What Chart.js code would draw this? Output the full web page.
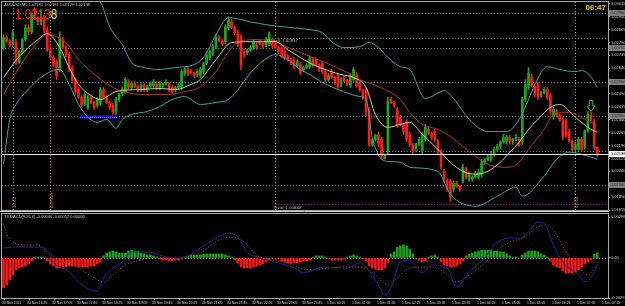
<!DOCTYPE html>
<html><head><meta charset="utf-8"><title>AUDUSD,M5</title>
<style>
html,body{margin:0;padding:0;background:#000;width:625px;height:306px;overflow:hidden}
#wrap{position:relative;width:625px;height:306px;background:#000}
canvas{position:absolute;left:0}
#cMain{top:0}
#cMacd{top:211px}
</style>
<script src="https://cdn.jsdelivr.net/npm/chart.js@4.4.1/dist/chart.umd.min.js"></script>
</head><body>
<div id="wrap"><canvas id="cMain" width="625" height="216"></canvas><canvas id="cMacd" width="625" height="95"></canvas></div>
<script>
// ---------------- DATA ----------------
const symbolName = 'AUDUSD,M5';
const clockText = '06:47';
const opens = [1.02760,1.02818,1.02798,1.02777,1.02789,1.02678,1.02736,1.02806,1.02876,1.02852,
1.02951,1.02930,1.02910,1.02934,1.02864,1.02748,1.02705,1.02678,1.02632,1.02806,
1.02762,1.02719,1.02644,1.02574,1.02516,1.02472,1.02435,1.02412,1.02470,1.02441,
1.02423,1.02435,1.02516,1.02470,1.02441,1.02423,1.02388,1.02458,1.02487,1.02504,
1.02562,1.02528,1.02551,1.02534,1.02516,1.02539,1.02516,1.02534,1.02539,1.02551,
1.02528,1.02539,1.02548,1.02545,1.02528,1.02516,1.02528,1.02528,1.02609,1.02632,
1.02620,1.02612,1.02603,1.02597,1.02620,1.02667,1.02702,1.02725,1.02765,1.02818,
1.02800,1.02794,1.02876,1.02910,1.02878,1.02847,1.02818,1.02736,1.02731,1.02745,
1.02760,1.02777,1.02794,1.02782,1.02777,1.02783,1.02794,1.02783,1.02760,1.02754,
1.02736,1.02707,1.02690,1.02690,1.02655,1.02661,1.02632,1.02644,1.02649,1.02690,
1.02690,1.02661,1.02667,1.02620,1.02574,1.02620,1.02588,1.02597,1.02545,1.02586,
1.02568,1.02539,1.02574,1.02603,1.02551,1.02513,1.02516,1.02400,1.02197,1.02223,
1.02255,1.02226,1.02116,1.02156,1.02458,1.02440,1.02400,1.02354,1.02313,1.02330,
1.02255,1.02191,1.02168,1.02197,1.02156,1.02226,1.02284,1.02261,1.02272,1.02214,
1.02151,1.02040,1.01988,1.01982,1.01936,1.01971,1.01954,1.01982,1.02052,1.01994,
1.01994,1.02008,1.02006,1.02023,1.02093,1.02107,1.02110,1.02139,1.02168,1.02185,
1.02211,1.02214,1.02238,1.02214,1.02226,1.02226,1.02214,1.02458,1.02528,1.02586,
1.02536,1.02545,1.02481,1.02498,1.02516,1.02481,1.02359,1.02388,1.02365,1.02342,
1.02330,1.02267,1.02217,1.02168,1.02168,1.02226,1.02180,1.02275,1.02365,1.02330,1.02181];
const highs = [1.02835,1.02829,1.02805,1.02864,1.02806,1.02748,1.02815,1.02893,1.02893,1.02963,
1.02992,1.02940,1.02980,1.02951,1.02881,1.02765,1.02712,1.02690,1.02852,1.02818,
1.02770,1.02731,1.02655,1.02586,1.02528,1.02480,1.02499,1.02481,1.02481,1.02449,
1.02470,1.02528,1.02528,1.02481,1.02449,1.02435,1.02470,1.02495,1.02528,1.02586,
1.02574,1.02562,1.02562,1.02540,1.02551,1.02551,1.02540,1.02562,1.02574,1.02562,
1.02562,1.02555,1.02574,1.02557,1.02539,1.02535,1.02551,1.02632,1.02644,1.02644,
1.02632,1.02618,1.02632,1.02644,1.02675,1.02736,1.02748,1.02777,1.02835,1.02829,
1.02807,1.02893,1.02939,1.02922,1.02885,1.02864,1.02835,1.02748,1.02752,1.02771,
1.02806,1.02789,1.02806,1.02788,1.02818,1.02852,1.02806,1.02794,1.02767,1.02765,
1.02748,1.02719,1.02697,1.02702,1.02690,1.02673,1.02650,1.02667,1.02713,1.02702,
1.02702,1.02668,1.02678,1.02632,1.02609,1.02632,1.02595,1.02609,1.02586,1.02597,
1.02575,1.02609,1.02644,1.02615,1.02562,1.02520,1.02528,1.02412,1.02230,1.02255,
1.02267,1.02238,1.02139,1.02470,1.02470,1.02447,1.02412,1.02365,1.02320,1.02342,
1.02267,1.02203,1.02204,1.02238,1.02267,1.02313,1.02296,1.02268,1.02284,1.02226,
1.02168,1.02052,1.01996,1.01994,1.01982,1.01982,1.01961,1.02081,1.02064,1.02035,
1.02015,1.02040,1.02052,1.02110,1.02114,1.02139,1.02156,1.02180,1.02197,1.02218,
1.02255,1.02249,1.02249,1.02233,1.02255,1.02238,1.02470,1.02574,1.02644,1.02603,
1.02543,1.02557,1.02505,1.02528,1.02528,1.02493,1.02412,1.02400,1.02372,1.02354,
1.02342,1.02284,1.02224,1.02209,1.02238,1.02238,1.02282,1.02388,1.02383,1.02342,1.02181];
const lows = [1.02748,1.02790,1.02765,1.02765,1.02661,1.02667,1.02725,1.02798,1.02835,1.02841,
1.02922,1.02893,1.02893,1.02847,1.02736,1.02697,1.02649,1.02574,1.02620,1.02754,
1.02707,1.02620,1.02557,1.02487,1.02464,1.02412,1.02423,1.02400,1.02433,1.02400,
1.02412,1.02423,1.02458,1.02433,1.02400,1.02371,1.02371,1.02446,1.02479,1.02493,
1.02516,1.02516,1.02527,1.02504,1.02504,1.02504,1.02504,1.02527,1.02528,1.02516,
1.02516,1.02528,1.02541,1.02504,1.02493,1.02504,1.02521,1.02516,1.02597,1.02597,
1.02605,1.02586,1.02591,1.02586,1.02609,1.02660,1.02690,1.02713,1.02754,1.02793,
1.02771,1.02783,1.02864,1.02870,1.02835,1.02765,1.02632,1.02702,1.02719,1.02738,
1.02748,1.02748,1.02776,1.02760,1.02765,1.02771,1.02760,1.02753,1.02725,1.02702,
1.02690,1.02684,1.02661,1.02638,1.02644,1.02603,1.02620,1.02638,1.02638,1.02644,
1.02655,1.02620,1.02609,1.02562,1.02562,1.02580,1.02545,1.02522,1.02533,1.02561,
1.02539,1.02528,1.02562,1.02528,1.02505,1.02458,1.02359,1.02185,1.02185,1.02216,
1.02185,1.02110,1.02110,1.02139,1.02433,1.02412,1.02296,1.02306,1.02255,1.02214,
1.02185,1.02139,1.02156,1.02190,1.02139,1.02214,1.02254,1.02226,1.02214,1.02139,
1.02052,1.01980,1.01924,1.01866,1.01924,1.01947,1.01924,1.01971,1.01994,1.01982,
1.01982,1.02001,1.01994,1.02006,1.02081,1.02100,1.02098,1.02127,1.02156,1.02168,
1.02204,1.02197,1.02197,1.02197,1.02219,1.02185,1.02197,1.02446,1.02516,1.02529,
1.02475,1.02458,1.02470,1.02491,1.02458,1.02371,1.02342,1.02358,1.02330,1.02226,
1.02238,1.02210,1.02156,1.02156,1.02156,1.02156,1.02168,1.02268,1.02330,1.02168,1.02129];
const closes = [1.02818,1.02798,1.02777,1.02847,1.02678,1.02736,1.02806,1.02876,1.02852,1.02951,
1.02930,1.02910,1.02934,1.02864,1.02748,1.02705,1.02661,1.02597,1.02818,1.02762,
1.02719,1.02632,1.02574,1.02504,1.02472,1.02429,1.02487,1.02470,1.02441,1.02412,
1.02458,1.02516,1.02470,1.02441,1.02412,1.02383,1.02458,1.02487,1.02516,1.02574,
1.02528,1.02551,1.02534,1.02516,1.02539,1.02516,1.02534,1.02551,1.02562,1.02528,
1.02551,1.02548,1.02557,1.02516,1.02504,1.02528,1.02539,1.02620,1.02632,1.02609,
1.02612,1.02603,1.02620,1.02632,1.02667,1.02713,1.02736,1.02765,1.02818,1.02800,
1.02783,1.02881,1.02922,1.02878,1.02847,1.02777,1.02661,1.02719,1.02745,1.02760,
1.02794,1.02760,1.02782,1.02771,1.02806,1.02841,1.02771,1.02760,1.02736,1.02707,
1.02702,1.02690,1.02673,1.02649,1.02678,1.02615,1.02644,1.02655,1.02702,1.02655,
1.02661,1.02632,1.02620,1.02574,1.02597,1.02588,1.02557,1.02533,1.02574,1.02568,
1.02551,1.02597,1.02632,1.02539,1.02513,1.02475,1.02388,1.02197,1.02223,1.02249,
1.02197,1.02127,1.02133,1.02446,1.02440,1.02423,1.02307,1.02313,1.02272,1.02226,
1.02197,1.02156,1.02197,1.02226,1.02255,1.02296,1.02261,1.02238,1.02226,1.02156,
1.02069,1.01988,1.01936,1.01890,1.01971,1.01954,1.01936,1.02064,1.02006,1.02023,
1.02008,1.02023,1.02035,1.02093,1.02107,1.02122,1.02139,1.02168,1.02185,1.02211,
1.02238,1.02238,1.02214,1.02226,1.02238,1.02197,1.02458,1.02545,1.02609,1.02536,
1.02487,1.02475,1.02498,1.02516,1.02470,1.02388,1.02400,1.02365,1.02342,1.02243,
1.02249,1.02217,1.02168,1.02197,1.02226,1.02168,1.02275,1.02371,1.02342,1.02181,1.02138];

// time axis labels, one every 8 bars (M5 -> 40 min)
const timeLabels = ['30 Nov 2011','30 Nov 16:25','30 Nov 17:05','30 Nov 17:45','30 Nov 18:25','30 Nov 19:05','30 Nov 19:45','30 Nov 20:25','30 Nov 21:05','30 Nov 21:45','30 Nov 22:25','30 Nov 23:05','30 Nov 23:45','1 Dec 00:25','1 Dec 01:05','1 Dec 01:45','1 Dec 02:25','1 Dec 03:05','1 Dec 03:45','1 Dec 04:25','1 Dec 05:05','1 Dec 05:45','1 Dec 06:25','1 Dec 07:05','1 Dec 07:45'];
const barsPerLabel = 8;
const priceTicks = [1.01815,1.01890,1.01965,1.02040,1.02115,1.02190,1.02265,1.02340,1.02415,1.02490,1.02565,1.02640,1.02715,1.02790,1.02865,1.02940,1.03015];
const pivotLevels = [1.02960,1.02760,1.02560,1.02360,1.02160,1.01960];

// indicator lines: [bar index, value]
const bbUpper = [[0,1.03212],[12,1.03183],[24,1.03108],[31,1.03026],[34,1.02881],[36,1.02823],[38,1.02777],[41,1.02673],[45,1.02644],[49,1.02632],[55,1.02644],[61,1.02661],[64,1.02702],[68,1.02835],[72,1.02934],[79,1.02910],[84,1.02893],[92,1.02876],[98,1.02864],[102,1.02847],[105,1.02794],[109,1.02760],[114,1.02765],[117,1.02789],[120,1.02760],[123,1.02702],[127,1.02649],[130,1.02632],[135,1.02464],[140,1.02504],[141,1.02510],[144,1.02464],[149,1.02342],[155,1.02272],[161,1.02272],[165,1.02342],[168,1.02458],[170,1.02545],[174,1.02649],[178,1.02632],[183,1.02620],[185,1.02626],[188,1.02591],[190,1.02528]];
const bbLower = [[0,1.02081],[2,1.02342],[4,1.02429],[5,1.02458],[18,1.02632],[21,1.02545],[25,1.02400],[30,1.02325],[33,1.02342],[36,1.02290],[38,1.02342],[41,1.02371],[46,1.02388],[50,1.02417],[54,1.02458],[58,1.02475],[63,1.02429],[68,1.02441],[72,1.02458],[80,1.02632],[85,1.02707],[87,1.02719],[91,1.02690],[95,1.02632],[98,1.02603],[102,1.02557],[107,1.02516],[114,1.02475],[116,1.02458],[118,1.02238],[121,1.02110],[123,1.02098],[127,1.02093],[130,1.02064],[139,1.02040],[143,1.01907],[151,1.01837],[158,1.01895],[164,1.01948],[166,1.01895],[173,1.02012],[177,1.02110],[181,1.02151],[185,1.02139],[190,1.02110]];
const maFast = [[0,1.02586],[5,1.02707],[11,1.02806],[14,1.02841],[18,1.02760],[21,1.02644],[24,1.02545],[28,1.02481],[31,1.02458],[36,1.02504],[44,1.02516],[50,1.02522],[55,1.02516],[60,1.02545],[63,1.02574],[68,1.02690],[73,1.02789],[79,1.02794],[87,1.02794],[91,1.02748],[95,1.02702],[99,1.02661],[103,1.02632],[108,1.02603],[112,1.02586],[116,1.02528],[119,1.02371],[123,1.02296],[127,1.02313],[130,1.02325],[134,1.02255],[139,1.02168],[143,1.02093],[147,1.02040],[151,1.02023],[155,1.02040],[159,1.02093],[162,1.02151],[165,1.02209],[168,1.02284],[171,1.02342],[175,1.02412],[178,1.02429],[183,1.02354],[188,1.02284],[190,1.02267]];
const maSlow = [[0,1.02487],[5,1.02644],[10,1.02771],[14,1.02835],[20,1.02789],[24,1.02690],[30,1.02591],[35,1.02528],[39,1.02499],[47,1.02487],[52,1.02487],[57,1.02499],[63,1.02533],[68,1.02620],[72,1.02736],[76,1.02800],[82,1.02806],[87,1.02789],[95,1.02731],[103,1.02673],[110,1.02615],[114,1.02574],[120,1.02533],[127,1.02458],[130,1.02383],[134,1.02313],[139,1.02284],[143,1.02243],[147,1.02185],[151,1.02127],[155,1.02081],[159,1.02064],[162,1.02064],[165,1.02093],[168,1.02168],[173,1.02284],[176,1.02371],[181,1.02383],[186,1.02342],[190,1.02307]];

// MACD sub window
const macdTitle = 'T3 MACD(9,26,6) -0.00046 -0.00052 0.00006';
const macdHist = [-0.00218,-0.00196,-0.0016,-0.00124,-0.00087,-0.00073,-0.00065,-0.00058,-0.00044,-0.00022,
0.00007,0.00007,0.00007,0.00007,-0.00022,-0.00044,-0.00058,-0.00073,-0.00073,-0.00065,
-0.00065,-0.00058,-0.00058,-0.00058,-0.00065,-0.00065,-0.00065,-0.00065,-0.00058,-0.00058,
-0.00044,-0.00029,0.00015,0.00036,0.00044,0.00051,0.00044,0.00036,0.00036,0.00036,
0.00051,0.00058,0.00051,0.00051,0.00036,0.00029,0.00022,0.00022,0.00015,0.00007,
-0.00007,-0.00015,-0.00015,-0.00022,-0.00022,-0.00015,-0.00015,-0.00007,0.00007,0.00015,
0.00022,0.00022,0.00022,0.00022,0.00029,0.00029,0.00029,0.00029,0.00029,0.00029,
0.00029,0.00022,0.00015,0.00007,-0.00015,-0.00036,-0.00065,-0.00073,-0.00073,-0.00073,
-0.00065,-0.00058,-0.00051,-0.00044,-0.00029,-0.00015,0,-0.00007,-0.00007,-0.00022,
-0.00029,-0.00036,-0.00036,-0.00036,-0.00036,-0.00029,-0.00022,-0.00022,-0.00015,0.00007,
0.00015,0.00015,0.00015,0.00007,-0.00007,-0.00015,-0.00015,-0.00015,-0.00015,-0.00007,
0.00007,0.00015,0.00022,0.00015,0.00007,-0.00007,-0.00022,-0.00058,-0.00073,-0.0008,
-0.00087,-0.00087,-0.00073,-0.00036,0.00029,0.00044,0.0008,0.00087,0.00095,0.00087,
0.00065,0.00029,-0.00007,-0.00015,-0.00029,-0.00022,0.00007,0.00015,0.00022,0.00007,
-0.00029,-0.00051,-0.00058,-0.00065,-0.00065,-0.00058,-0.00044,-0.00022,0.00015,0.00029,
0.00036,0.00044,0.00051,0.00058,0.00058,0.00058,0.00058,0.00051,0.00051,0.00044,
0.00044,0.00029,0.00015,0.00007,0.00007,0,0.00022,0.00036,0.00051,0.00051,
0.00051,0.00044,0.00029,0.00022,0.00007,-0.00022,-0.00051,-0.00065,-0.00073,-0.00095,
-0.00109,-0.00109,-0.00109,-0.00102,-0.00087,-0.00065,-0.00044,-0.00029,-0.00015,0.00029,0.00036];
const macdMain = [[0,0.00073],[5,0.0008],[11,0.0008],[14,0.00058],[16,-0.00036],[19,-0.00073],[21,-0.00102],[24,-0.00174],[28,-0.00233],[30,-0.0024],[32,-0.00145],[35,-0.00073],[38,-0.00029],[41,0.00044],[46,0.00044],[50,0.00022],[54,0],[57,0],[63,0.00073],[67,0.00131],[72,0.00182],[75,0.00153],[78,0.00044],[82,0],[87,-0.00029],[93,-0.00073],[96,-0.00109],[99,-0.00087],[102,-0.00065],[110,-0.00073],[114,-0.00036],[116,-0.00065],[120,-0.00196],[122,-0.00269],[124,-0.00218],[127,-0.00029],[130,-0.00015],[134,-0.00109],[137,-0.00051],[142,-0.00073],[145,-0.00211],[149,-0.00102],[154,0],[157,0.00095],[162,0.00145],[165,0.00145],[168,0.00189],[171,0.00262],[173,0.00254],[176,0.00095],[179,-0.00029],[184,-0.00124],[186,-0.00174],[189,-0.00102],[190,-0.00046]];
const macdSignal = [[0,0.0025],[1,0.00175],[3,0.00116],[7,0.00095],[11,0.00095],[14,0.00044],[18,-0.00015],[24,-0.00073],[29,-0.00145],[32,-0.00174],[35,-0.00124],[39,-0.00051],[44,-0.00015],[49,0.00007],[54,0],[59,0],[63,0.00036],[69,0.00131],[73,0.00153],[77,0.00116],[81,0.00022],[86,-0.00015],[91,-0.00036],[95,-0.00073],[99,-0.00087],[104,-0.00073],[109,-0.00065],[114,-0.00065],[118,-0.00102],[123,-0.00196],[126,-0.00145],[130,-0.00073],[137,-0.00065],[141,-0.00102],[145,-0.00174],[149,-0.00124],[154,-0.00036],[158,0.00058],[162,0.00116],[166,0.00145],[171,0.00225],[174,0.0024],[177,0.00167],[180,0.00044],[184,-0.00065],[187,-0.00124],[190,-0.00052]];
const macdTicks = [0.00296,0,-0.00291];

// chart objects
const tpLevel = {label:'TP.Sell', price:1.02817, fromBar:85};
const pivotLine = {label:'Pivot', price:1.01848, fromBar:87};
const zone = {fromBar:24.4, toBar:36.3, top:1.02366, bottom:1.02348};
const sessionLines = [
  {bar:3, color:'#b8843e', text:'16:00'},
  {bar:15, color:'#b8843e', text:'London'},
  {bar:87, color:'#9c9c9c', text:''},
  {bar:183, color:'#c9a83e', text:'07:00'}
];
const signalArrow = {bar:188, price:1.02388};

// ---------------- RENDER ----------------
const FONT = '"Liberation Sans", Arial, sans-serif';
const GREEN = '#22a322', RED = '#f41f1f';
const X_MIN = -0.48, X_MAX = 193.44;
const toXY = arr => arr.map(p => ({x:p[0], y:p[1]}));
const last = closes.length - 1;
const candleColors = closes.map((c,i) => c >= opens[i] ? GREEN : RED);

function hline(ctx,x1,x2,y){ctx.beginPath();ctx.moveTo(x1,y);ctx.lineTo(x2,y);ctx.stroke();}
function vline(ctx,x,y1,y2){ctx.beginPath();ctx.moveTo(x,y1);ctx.lineTo(x,y2);ctx.stroke();}
function fixedAxis(w){return function(s){s.width=w;s.paddingTop=0;s.paddingBottom=0;};}

const mainDecor = {
  id:'mainDecor',
  beforeDatasetsDraw(chart){
    const {ctx, chartArea:a, scales:{x,y}} = chart;
    ctx.save();
    ctx.beginPath(); ctx.rect(a.left,a.top,a.right-a.left,a.bottom-a.top); ctx.clip();
    ctx.lineWidth = 1;
    ctx.setLineDash([1,2]);
    ctx.strokeStyle = '#7a7a7a';
    pivotLevels.forEach(p => hline(ctx,a.left,a.right,Math.round(y.getPixelForValue(p))+0.5));
    sessionLines.forEach(s => { ctx.strokeStyle = s.color; vline(ctx,Math.round(x.getPixelForValue(s.bar))+0.5,a.top,a.bottom); });
    ctx.strokeStyle = '#8a8a8a';
    hline(ctx,x.getPixelForValue(tpLevel.fromBar),a.right,Math.round(y.getPixelForValue(tpLevel.price))+0.5);
    ctx.strokeStyle = '#a43ca4';
    hline(ctx,x.getPixelForValue(pivotLine.fromBar),a.right,Math.round(y.getPixelForValue(pivotLine.price))+0.5);
    ctx.setLineDash([]);
    const zx1 = x.getPixelForValue(zone.fromBar), zx2 = x.getPixelForValue(zone.toBar);
    const zy1 = y.getPixelForValue(zone.top), zy2 = y.getPixelForValue(zone.bottom);
    ctx.fillStyle = '#1717e6'; ctx.fillRect(zx1,zy1,zx2-zx1,zy2-zy1);
    ctx.strokeStyle = '#7088ff'; ctx.setLineDash([1,1]);
    hline(ctx,zx1,zx2,Math.round((zy1+zy2)/2)+0.5);
    ctx.restore();
  },
  afterDatasetsDraw(chart){
    const {ctx, chartArea:a, scales:{x,y}} = chart;
    ctx.save();
    const bidY = Math.round(y.getPixelForValue(closes[last]))+0.5;
    ctx.strokeStyle = '#e8e8e8'; ctx.lineWidth = 1;
    hline(ctx,a.left,a.right,bidY);
    const ax = x.getPixelForValue(signalArrow.bar), ay = y.getPixelForValue(signalArrow.price);
    ctx.strokeStyle = '#3fbf55';
    ctx.beginPath();
    ctx.moveTo(ax-1.8,ay-11); ctx.lineTo(ax+1.8,ay-11); ctx.lineTo(ax+1.8,ay-5.5); ctx.lineTo(ax+4,ay-5.5);
    ctx.lineTo(ax,ay); ctx.lineTo(ax-4,ay-5.5); ctx.lineTo(ax-1.8,ay-5.5); ctx.closePath(); ctx.stroke();
    ctx.font = '4.5px '+FONT; ctx.textBaseline = 'middle'; ctx.textAlign = 'left';
    sessionLines.forEach(s => {
      if (!s.text) return;
      const px = Math.round(x.getPixelForValue(s.bar))+0.5;
      ctx.save(); ctx.translate(px+1, a.bottom-2); ctx.rotate(-Math.PI/2);
      ctx.fillStyle = s.color; ctx.fillText(s.text,0,0); ctx.restore();
    });
    ctx.fillStyle = '#b4b4b4'; ctx.font = '4.4px '+FONT;
    ctx.fillText(tpLevel.label+': '+tpLevel.price.toFixed(5), x.getPixelForValue(tpLevel.fromBar)-3, y.getPixelForValue(tpLevel.price)+3.5);
    ctx.fillText(pivotLine.label+': '+pivotLine.price.toFixed(5), x.getPixelForValue(pivotLine.fromBar)-2, y.getPixelForValue(pivotLine.price)+3);
    ctx.fillStyle = '#d0d0d0'; ctx.font = '4px '+FONT;
    ctx.fillText(symbolName+' '+opens[last].toFixed(5)+' '+highs[last].toFixed(5)+' '+lows[last].toFixed(5)+' '+closes[last].toFixed(5), 4, 4.8);
    const ps = closes[last].toFixed(5);
    ctx.save(); ctx.translate(15,19); ctx.scale(0.78,1);
    ctx.font = '15px '+FONT; ctx.textBaseline = 'alphabetic';
    ctx.fillStyle = '#de2a22'; ctx.fillText(ps.slice(0,-1),0,0);
    const w = ctx.measureText(ps.slice(0,-1)).width;
    ctx.fillStyle = '#f0ee1a'; ctx.fillText(ps.slice(-1),w,0);
    ctx.restore();
    ctx.font = 'bold 8px '+FONT; ctx.fillStyle = '#e8cf28'; ctx.textAlign = 'right'; ctx.textBaseline = 'alphabetic';
    ctx.fillText(clockText, a.right-2, 9.5);
    ctx.strokeStyle = '#a8a8a8';
    ctx.strokeRect(a.left-0.5,a.top-0.5,a.right-a.left+1,a.bottom-a.top+1);
    ctx.font = '4px '+FONT; ctx.textAlign = 'left'; ctx.textBaseline = 'middle';
    pivotLevels.forEach(p => {
      if (Math.abs(p-closes[last]) < 0.0004) return;
      const py = Math.round(y.getPixelForValue(p));
      ctx.fillStyle = '#7e7e7e'; ctx.fillRect(a.right+1,py-3,16,6);
      ctx.fillStyle = '#2a2a2a'; ctx.fillText(p.toFixed(5), a.right+3, py+0.3);
    });
    const by = Math.round(y.getPixelForValue(closes[last]));
    ctx.fillStyle = '#ffffff'; ctx.fillRect(a.right+1,by-3,16,6);
    ctx.fillStyle = '#000000'; ctx.fillText(closes[last].toFixed(5), a.right+3, by+0.3);
    ctx.restore();
  }
};

new Chart(document.getElementById('cMain'), {
  type:'bar',
  data:{datasets:[
    {type:'line', label:'BB upper', data:toXY(bbUpper), borderColor:'#42a29a', borderWidth:1, pointRadius:0, cubicInterpolationMode:'monotone', order:1},
    {type:'line', label:'BB lower', data:toXY(bbLower), borderColor:'#42a29a', borderWidth:1, pointRadius:0, cubicInterpolationMode:'monotone', order:1},
    {type:'line', label:'MA slow', data:toXY(maSlow), borderColor:'#a8392c', borderWidth:1, pointRadius:0, cubicInterpolationMode:'monotone', order:1},
    {type:'line', label:'MA fast', data:toXY(maFast), borderColor:'#d4cd86', borderWidth:1, pointRadius:0, cubicInterpolationMode:'monotone', order:0},
    {type:'bar', label:'body', data:opens.map((o,i)=>({x:i, y:[o, closes[i]]})), backgroundColor:candleColors, barThickness:2, grouped:false, order:2},
    {type:'bar', label:'wick', data:lows.map((l,i)=>({x:i, y:[l, highs[i]]})), backgroundColor:candleColors, barThickness:1, grouped:false, order:3}
  ]},
  options:{
    responsive:false, animation:false, devicePixelRatio:1,
    layout:{padding:{left:2, top:2, right:0, bottom:6}},
    plugins:{legend:{display:false}, tooltip:{enabled:false}},
    scales:{
      x:{type:'linear', min:X_MIN, max:X_MAX, offset:false, display:false},
      y:{type:'linear', position:'right', min:1.01815, max:1.03025,
        afterBuildTicks(s){ s.ticks = priceTicks.map(v => ({value:v})); },
        afterFit: fixedAxis(17),
        ticks:{font:{size:4, family:FONT}, color:'#d6d6d6', padding:1, autoSkip:false, callback:v => Number(v).toFixed(5)},
        grid:{display:true, drawOnChartArea:false, drawTicks:true, tickLength:2, color:'#bdbdbd'},
        border:{display:true, color:'#bdbdbd'}
      }
    }
  },
  plugins:[mainDecor]
});

const macdDecor = {
  id:'macdDecor',
  beforeDatasetsDraw(chart){
    const {ctx, chartArea:a, scales:{y}} = chart;
    ctx.save(); ctx.strokeStyle = '#9a9a9a'; ctx.lineWidth = 1; ctx.setLineDash([1,2]);
    hline(ctx,a.left,a.right,Math.round(y.getPixelForValue(0))+0.5);
    ctx.restore();
  },
  afterDatasetsDraw(chart){
    const {ctx, chartArea:a, scales:{x}} = chart;
    ctx.save();
    ctx.strokeStyle = '#a8a8a8'; ctx.lineWidth = 1;
    ctx.strokeRect(a.left-0.5,a.top-0.5,a.right-a.left+1,a.bottom-a.top+1);
    ctx.strokeStyle = '#d2d2d2'; hline(ctx,0,a.right+1,0.5);
    ctx.fillStyle = '#d0d0d0'; ctx.font = '4px '+FONT; ctx.textBaseline = 'middle'; ctx.textAlign = 'left';
    ctx.fillText(macdTitle, 4, a.top+3);
    ctx.strokeStyle = '#bdbdbd';
    timeLabels.forEach((t,k) => {
      const px = x.getPixelForValue(k*barsPerLabel);
      const tx = Math.round(px)+0.5;
      vline(ctx,tx,a.bottom,a.bottom+2);
      ctx.save(); ctx.translate(px-1.5, a.bottom+5); ctx.scale(0.82,1);
      ctx.fillStyle = '#d6d6d6'; ctx.font = '4.2px '+FONT; ctx.fillText(t,0,0); ctx.restore();
    });
    ctx.restore();
  }
};

new Chart(document.getElementById('cMacd'), {
  type:'bar',
  data:{datasets:[
    {type:'line', label:'MACD', data:toXY(macdMain), borderColor:'#25259c', borderWidth:1, pointRadius:0, cubicInterpolationMode:'monotone', order:0},
    {type:'line', label:'Signal', data:toXY(macdSignal), borderColor:'#b5563a', borderWidth:1, borderDash:[1,2], pointRadius:0, cubicInterpolationMode:'monotone', order:0},
    {type:'bar', label:'Histogram', data:macdHist.map((v,i)=>({x:i, y:v})), backgroundColor:macdHist.map(v => v >= 0 ? '#1f9f1f' : '#ee1b1b'), barThickness:2, grouped:false, order:1}
  ]},
  options:{
    responsive:false, animation:false, devicePixelRatio:1,
    layout:{padding:{left:2, top:3, right:0, bottom:8}},
    plugins:{legend:{display:false}, tooltip:{enabled:false}},
    scales:{
      x:{type:'linear', min:X_MIN, max:X_MAX, offset:false, display:false},
      y:{type:'linear', position:'right', min:-0.00291, max:0.0032,
        afterBuildTicks(s){ s.ticks = macdTicks.map(v => ({value:v})); },
        afterFit: fixedAxis(17),
        ticks:{font:{size:4, family:FONT}, color:'#d6d6d6', padding:1, autoSkip:false, callback:v => (v === 0 ? '0.00' : Number(v).toFixed(5))},
        grid:{display:true, drawOnChartArea:false, drawTicks:true, tickLength:2, color:'#bdbdbd'},
        border:{display:true, color:'#bdbdbd'}
      }
    }
  },
  plugins:[macdDecor]
});
</script>
</body></html>
